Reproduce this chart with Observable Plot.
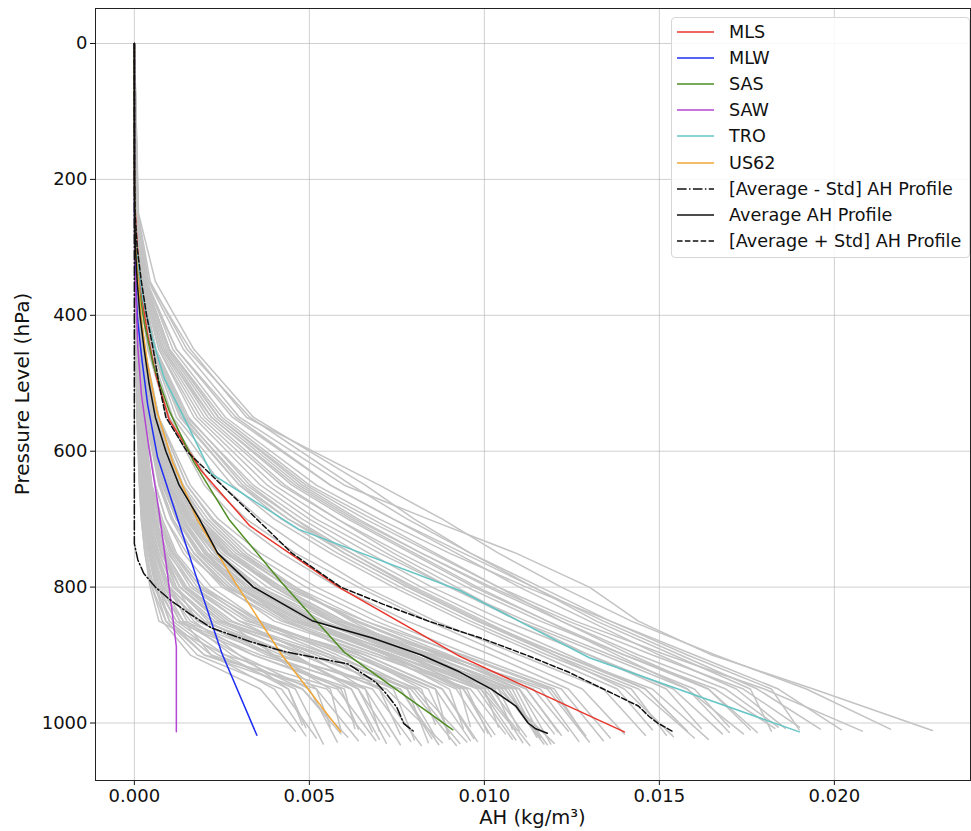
<!DOCTYPE html>
<html><head><meta charset="utf-8">
<script src="https://cdn.jsdelivr.net/npm/d3@7"></script>
<script src="https://cdn.jsdelivr.net/npm/@observablehq/plot@0.6"></script>
<style>
body{margin:0;background:#fff;font-family:"DejaVu Sans",sans-serif;}
#wrap{position:relative;width:971px;height:831px;overflow:hidden;}
#wrap > svg{position:absolute;left:0;top:0;}
.legend{position:absolute;left:671px;top:17px;width:297px;height:239px;border:1px solid #d6d6d6;border-radius:4px;background:rgba(255,255,255,0.85);font-size:17.6px;color:#111;}
.item{position:absolute;left:4px;height:22px;display:flex;align-items:center;white-space:nowrap;}
#wrap .item svg{position:static;margin-right:15px;flex:none;}
.xlabel{position:absolute;left:0;width:1065px;top:806px;text-align:center;font-size:19.5px;color:#111;}
.ylabel{position:absolute;left:22px;top:394px;transform:translate(-50%,-50%) rotate(-90deg);font-size:20px;white-space:nowrap;color:#111;}
</style></head><body><div id="wrap"></div>
<script>
// unit: values below are in g/m³, converted to kg/m³ when building rows
const G = 0.001;

const xTicks = [0, 0.005, 0.010, 0.015, 0.020];
const yTicks = [0, 200, 400, 600, 800, 1000];

const refNames  = ["MLS", "MLW", "SAS", "SAW", "TRO", "US62"];
const refColors = ["#e8352b", "#1f2ef5", "#4f8d23", "#b446d3", "#66c5c5", "#f2a734"];

// standard atmosphere profiles (pressure hPa, AH g/m³)
const mlsP = [0, 153, 179, 209, 243, 281, 324, 372, 426, 487, 554, 628, 710, 802, 902, 1013];
const mlsV = [0, 0.001, 0.0018, 0.006, 0.022, 0.064, 0.12, 0.21, 0.37, 0.61, 1.0, 1.9, 3.3, 5.9, 9.3, 14.0];
const mlwP = [0, 137.8, 161, 188.2, 219.9, 256.8, 299.2, 347.3, 401.6, 462.7, 531.3, 608.1, 693.8, 789.7, 897.3, 1018];
const mlwV = [0, 0.0048, 0.0054, 0.006, 0.0069, 0.0075, 0.016, 0.035, 0.085, 0.21, 0.38, 0.66, 1.2, 1.8, 2.5, 3.5];
const sasP = [0, 146, 170, 197.7, 230, 267.7, 310.7, 359, 413, 473, 541, 616, 700, 792.9, 896, 1010];
const sasV = [0, 0.001, 0.0018, 0.006, 0.0094, 0.015, 0.042, 0.13, 0.29, 0.54, 1.0, 1.7, 2.7, 4.2, 6.0, 9.1];
const sawP = [0, 129.1, 151, 176.6, 206.7, 241.8, 282.9, 330.8, 385.3, 446.7, 515.8, 593.2, 679.8, 777.5, 887.8, 1013];
const sawV = [0, 0.001, 0.0018, 0.0026, 0.0038, 0.0055, 0.0084, 0.011, 0.054, 0.098, 0.2, 0.41, 0.68, 0.94, 1.2, 1.2];
const troP = [0, 156, 182, 213, 247, 286, 329, 378, 432, 492, 559, 633, 715, 805, 904, 1013];
const troV = [0, 0.001, 0.0018, 0.006, 0.017, 0.05, 0.12, 0.25, 0.5, 0.85, 1.5, 2.2, 4.7, 9.3, 13.0, 19.0];
const usP  = [0, 141.7, 165.8, 194, 227, 265, 308, 356.5, 411.1, 472.2, 540.5, 616.6, 701.2, 795, 898.8, 1013];
const usV  = [0, 0.00084, 0.0018, 0.0037, 0.0082, 0.018, 0.046, 0.12, 0.21, 0.38, 0.64, 1.1, 1.8, 2.9, 4.2, 5.9];

// statistics lines
const avgP = [0, 200, 250, 300, 350, 400, 450, 500, 550, 600, 650, 700, 750, 800, 850, 875, 900, 925, 950, 975, 1000, 1008, 1015];
const avgV = [0, 0.005, 0.01, 0.03, 0.08, 0.16, 0.28, 0.42, 0.6, 0.9, 1.28, 1.86, 2.38, 3.4, 5.1, 6.8, 8.2, 9.3, 10.2, 10.9, 11.25, 11.45, 11.8];
const plusP = [0, 200, 250, 300, 350, 400, 450, 500, 550, 600, 650, 700, 750, 800, 825, 850, 875, 900, 925, 950, 975, 990, 1000, 1013];
const plusV = [0, 0.005, 0.02, 0.08, 0.2, 0.35, 0.54, 0.7, 0.9, 1.5, 2.5, 3.5, 4.5, 5.9, 7.1, 8.4, 9.9, 11.2, 12.4, 13.4, 14.4, 14.7, 14.95, 15.4];
const minusP = [0, 200, 400, 600, 700, 736, 760, 780, 800, 820, 840, 860, 880, 895, 913, 940, 957, 977, 1001, 1013];
const minusV = [0, 0, 0, 0, 0, 0, 0.1, 0.27, 0.6, 1.05, 1.6, 2.2, 3.3, 4.3, 6.1, 6.9, 7.2, 7.5, 7.7, 8.0];

// individual profiles (gray): values at grayLevels, then [surface pressure, surface value]
const grayLevels = [0, 250, 350, 450, 550, 650, 700, 750, 800, 850, 900, 950];
const grayProfiles = [
  [0,0.005,0.02,0.05,0.10,0.20,0.30,0.40,0.60,0.90,1.8,4.2],
  [0,0.005,0.02,0.06,0.12,0.25,0.35,0.50,0.80,1.3,3.0,5.0],
  [0,0.01,0.03,0.08,0.15,0.30,0.45,0.70,1.1,2.2,4.5,6.4],
  [0,0.01,0.03,0.06,0.12,0.22,0.30,0.45,0.70,1.0,2.0,5.5],
  [0,0.01,0.04,0.10,0.20,0.40,0.60,0.90,1.5,2.8,5.2,7.4],
  [0,0.005,0.02,0.05,0.10,0.18,0.25,0.35,0.50,0.80,1.6,3.6],
  [0,0.01,0.04,0.10,0.25,0.50,0.80,1.2,2.0,3.5,5.8,7.8],
  [0,0.01,0.03,0.08,0.18,0.35,0.50,0.80,1.2,1.8,3.8,6.6],
  [0,0.01,0.02,0.05,0.10,0.15,0.20,0.30,0.45,0.70,2.6,5.8],
  [0,0.01,0.03,0.07,0.14,0.28,0.40,0.60,0.90,1.6,3.4,6.0],
  [0,0.01,0.04,0.10,0.20,0.45,0.70,1.0,1.6,3.0,6.2,8.4],
  [0,0.01,0.03,0.08,0.16,0.32,0.50,0.75,1.3,2.5,4.8,7.0],
  [0,0.01,0.03,0.09,0.20,0.40,0.55,0.85,1.4,2.6,4.0,5.2],
  [0,0.01,0.02,0.06,0.12,0.25,0.40,0.60,1.0,2.0,4.2,7.2],
  [0,0.005,0.02,0.04,0.08,0.15,0.22,0.35,0.55,1.1,2.4,4.6],
  [0,0.01,0.03,0.07,0.15,0.30,0.45,0.65,1.0,1.5,2.8,4.8],
  [0,0.01,0.04,0.11,0.22,0.42,0.62,0.95,1.7,3.2,6.6,8.8],
  [0,0.005,0.015,0.04,0.09,0.18,0.28,0.42,0.65,1.2,3.4,6.2],
  [0,0.01,0.03,0.07,0.13,0.26,0.38,0.55,0.85,1.4,2.2,4.0],
  [0,0.01,0.035,0.09,0.18,0.36,0.55,0.85,1.3,2.4,5.4,7.9],
  [0,0.005,0.02,0.05,0.11,0.22,0.32,0.48,0.75,1.3,3.6,6.8],
  [0,0.01,0.025,0.06,0.12,0.24,0.36,0.52,0.8,1.9,4.6,6.2],
  [0,0.01,0.04,0.1,0.21,0.42,0.65,1.1,1.9,3.6,6.0,8.0],
  [0,0.005,0.015,0.035,0.07,0.14,0.2,0.3,0.5,0.9,2.0,4.8],
  [0,0.01,0.03,0.08,0.17,0.34,0.5,0.78,1.2,2.1,3.9,5.9],
  [0,0.01,0.03,0.07,0.15,0.3,0.46,0.7,1.15,2.3,5.0,7.6],
  [0,0.01,0.04,0.12,0.26,0.5,0.75,1.15,1.9,3.3,5.6,7.0],
  [0,0.005,0.02,0.05,0.1,0.2,0.3,0.45,0.7,1.4,4.0,7.6],
  [0,0.01,0.03,0.08,0.16,0.3,0.44,0.66,1.0,1.7,3.0,4.4],
  [0,0.01,0.035,0.09,0.19,0.38,0.58,0.9,1.45,2.7,5.6,8.1],
  [0,0.01,0.03,0.07,0.14,0.27,0.38,0.58,0.95,1.8,4.0,5.6],
  [0,0.005,0.02,0.045,0.09,0.17,0.26,0.4,0.62,1.0,2.2,5.2],
  [0,0.01,0.04,0.1,0.22,0.46,0.7,1.05,1.7,3.0,5.0,6.6],
  [0,0.01,0.03,0.08,0.18,0.36,0.52,0.8,1.3,2.5,5.4,7.8],
  [0,0.01,0.025,0.06,0.13,0.26,0.4,0.62,1.0,2.0,4.4,6.4],
  [0,0.01,0.04,0.11,0.24,0.48,0.72,1.1,1.8,3.4,6.4,8.6],
  [0,0.005,0.02,0.05,0.1,0.19,0.28,0.44,0.7,1.2,2.6,4.4],
  [0,0.02,0.06,0.15,0.35,0.80,1.2,1.8,2.8,4.4,7.0,9.2],
  [0,0.02,0.07,0.20,0.50,1.1,1.6,2.4,3.6,5.4,8.0,10.2],
  [0,0.02,0.05,0.12,0.30,0.60,0.90,1.4,2.2,3.6,6.2,8.6],
  [0,0.03,0.08,0.22,0.55,1.2,1.8,2.8,4.2,6.0,8.4,10.8],
  [0,0.02,0.06,0.18,0.45,1.0,1.5,2.2,3.2,5.0,7.6,10.4],
  [0,0.03,0.10,0.25,0.60,1.3,2.0,3.0,4.6,6.6,9.0,11.2],
  [0,0.02,0.05,0.14,0.35,0.75,1.1,1.7,2.6,4.0,6.8,9.6],
  [0,0.03,0.09,0.22,0.50,1.0,1.4,2.0,3.0,4.8,7.4,9.8],
  [0,0.02,0.06,0.16,0.40,0.90,1.3,2.0,3.2,5.2,8.6,11.4],
  [0,0.03,0.10,0.28,0.70,1.5,2.2,3.2,4.6,6.2,8.2,10.0],
  [0,0.02,0.07,0.20,0.50,1.1,1.7,2.6,4.0,5.8,8.8,11.8],
  [0,0.02,0.05,0.12,0.28,0.60,0.90,1.5,2.6,4.6,7.8,10.6],
  [0,0.03,0.08,0.20,0.50,1.0,1.6,2.6,4.2,6.6,9.4,12.0],
  [0,0.02,0.06,0.15,0.40,0.85,1.3,2.0,3.0,4.4,6.4,8.2],
  [0,0.03,0.09,0.25,0.60,1.3,1.9,2.8,4.0,5.6,7.8,9.4],
  [0,0.02,0.07,0.18,0.45,1.0,1.5,2.3,3.6,5.6,8.2,10.6],
  [0,0.03,0.10,0.30,0.70,1.6,2.4,3.6,5.2,7.2,9.6,12.2],
  [0,0.02,0.05,0.14,0.36,0.80,1.2,1.9,3.0,4.8,7.2,9.0],
  [0,0.02,0.06,0.17,0.42,0.95,1.4,2.1,3.3,5.3,7.9,10.9],
  [0,0.03,0.08,0.24,0.58,1.25,1.9,2.9,4.4,6.4,8.8,11.0],
  [0,0.02,0.05,0.13,0.32,0.70,1.05,1.6,2.5,4.2,7.0,9.9],
  [0,0.02,0.06,0.16,0.38,0.85,1.25,1.9,2.9,4.6,7.2,9.4],
  [0,0.02,0.07,0.19,0.46,1.0,1.55,2.35,3.5,5.3,7.7,9.9],
  [0,0.03,0.09,0.24,0.56,1.2,1.8,2.7,4.1,6.0,8.5,10.7],
  [0,0.02,0.05,0.13,0.33,0.72,1.1,1.7,2.7,4.5,7.4,10.1],
  [0,0.03,0.1,0.27,0.64,1.4,2.1,3.1,4.5,6.3,8.7,11.2],
  [0,0.02,0.06,0.17,0.4,0.9,1.35,2.05,3.1,4.9,7.6,10.3],
  [0,0.03,0.08,0.22,0.52,1.15,1.75,2.65,4.0,5.9,8.3,10.5],
  [0,0.02,0.06,0.15,0.37,0.82,1.2,1.85,2.95,4.7,7.3,9.5],
  [0,0.03,0.09,0.26,0.62,1.35,2.0,3.0,4.4,6.3,8.9,11.6],
  [0,0.02,0.07,0.19,0.47,1.05,1.55,2.3,3.4,5.0,7.3,9.3],
  [0,0.03,0.1,0.29,0.68,1.5,2.25,3.35,4.9,6.9,9.3,11.9],
  [0,0.02,0.05,0.14,0.34,0.74,1.1,1.7,2.7,4.3,6.6,8.8],
  [0,0.02,0.06,0.17,0.43,0.95,1.45,2.2,3.4,5.2,7.8,10.0],
  [0,0.03,0.08,0.23,0.55,1.2,1.8,2.7,4.0,5.7,8.0,10.4],
  [0,0.02,0.07,0.21,0.5,1.1,1.65,2.5,3.8,5.7,8.4,11.0],
  [0,0.05,0.15,0.40,1.0,2.2,3.2,4.6,6.4,8.4,10.6,12.8],
  [0,0.05,0.18,0.50,1.2,2.8,4.0,5.6,7.4,9.4,11.6,13.8],
  [0,0.06,0.20,0.60,1.5,3.4,4.8,6.4,8.2,10.2,12.4,14.6],
  [0,0.08,0.25,0.80,2.0,4.2,5.8,7.4,9.2,11.0,13.0,15.2],
  [0,0.10,0.30,1.0,2.5,5.0,6.8,8.6,10.4,12.2,14.2,16.4],
  [0,0.08,0.30,1.2,2.8,5.6,7.4,9.2,11.0,13.0,15.0,17.2],
  [0,0.10,0.40,1.4,3.0,6.0,8.4,10.9,13.0,14.4,16.5,19.4],
  [0,0.06,0.20,0.70,1.8,3.8,5.2,7.0,9.0,11.2,13.6,16.0],
  [0,0.05,0.16,0.50,1.3,3.0,4.4,6.2,8.0,10.0,12.0,14.0],
  [0,0.10,0.35,1.1,2.6,5.2,7.0,9.0,11.2,13.6,16.0,18.4],
  [0,0.10,0.40,1.6,3.2,7.0,8.8,10.4,12.2,14.2,16.6,19.2],
  [0,0.06,0.22,0.80,2.2,4.6,6.2,8.0,9.8,11.8,13.8,15.8],
  [0,0.04,0.14,0.45,1.1,2.5,3.6,5.0,6.6,8.6,11.0,13.4],
  [0,0.12,0.60,1.7,3.4,6.6,8.0,9.6,11.4,13.2,15.4,17.6],
  [0,0.05,0.16,0.55,1.4,3.2,4.6,6.0,7.8,9.8,12.2,14.8],
  [0,0.04,0.12,0.38,0.95,2.0,2.9,4.2,5.8,7.8,10.2,12.4],
  [0,0.07,0.24,0.75,1.9,4.0,5.5,7.2,9.0,11.0,13.4,15.8],
  [0,0.09,0.32,1.0,2.4,4.8,6.4,8.2,10.2,12.4,14.8,17.4],
  [0,0.06,0.2,0.62,1.55,3.3,4.6,6.2,7.9,9.9,12.2,14.6],
  [0,0.08,0.28,0.9,2.2,4.5,6.1,7.9,9.7,11.8,14.0,16.4],
  [0,0.1,0.35,1.2,2.9,5.6,7.4,9.4,11.4,13.4,15.6,17.8],
  [0,0.07,0.26,0.85,2.1,4.3,5.8,7.6,9.5,11.6,14.0,16.6],
  [0,0.05,0.17,0.52,1.35,3.0,4.2,5.8,7.6,9.6,11.8,14.2],
  [0,0.09,0.3,1.0,2.4,4.9,6.6,8.5,10.4,12.6,15.2,18.0],
  [0,0.06,0.22,0.7,1.7,3.6,5.0,6.7,8.5,10.6,13.0,15.4],
  [0,0.11,0.45,1.5,3.3,6.2,7.8,9.6,11.6,13.6,15.8,18.2],
  [0,0.05,0.18,0.58,1.45,3.1,4.4,6.0,7.8,9.8,12.0,14.4],
  [0,0.08,0.28,0.95,2.3,4.7,6.3,8.2,10.1,12.2,14.4,16.9]
];
const graySurface = [
  [1022,5.2],[1028,5.8],[1030,7.2],[1018,6.6],[1025,8.0],[1012,4.6],[1020,8.6],[1032,7.6],[1026,6.9],[1008,6.3],
  [1015,9.0],[1033,8.2],[1005,5.6],[1029,8.8],[1031,5.4],[1016,5.9],[1027,9.8],
  [1024,7.0],[1019,4.9],[1033,9.2],[1027,7.9],[1013,6.8],[1030,9.3],[1021,6.1],[1009,6.4],[1023,8.5],[1017,7.6],
  [1032,8.7],[1003,4.8],[1028,9.5],[1010,5.9],[1026,6.4],[1012,7.0],[1029,8.4],[1020,7.3],[1024,9.0],[1007,4.9],
  [1014,10.0],[1020,11.2],[1026,9.6],[1010,11.4],[1030,12.0],[1018,12.2],[1016,10.6],[1024,10.8],[1012,12.4],[1006,10.4],
  [1028,13.0],[1022,11.6],[1014,12.8],[1002,8.6],[1020,10.2],[1032,11.8],[1026,13.4],[1008,9.4],[1019,11.6],[1031,11.9],[1011,10.9],
  [1017,10.3],[1025,10.9],[1021,11.5],[1029,11.1],[1013,12.1],[1009,10.8],[1031,11.7],[1015,10.1],[1027,12.7],[1005,9.6],
  [1019,12.9],[1023,9.7],[1033,11.3],[1011,11.0],[1016,12.0],
  [1016,14.0],[1010,14.8],[1012,15.8],[1008,16.2],[1010,17.6],[1008,18.6],[1011,22.8],[1006,17.0],[1020,15.4],[1010,20.2],
  [1009,21.6],[1014,17.0],[1018,14.6],[1012,18.2],[1024,16.4],[1022,13.6],[1016,17.4],[1006,19.0],
  [1012,15.8],[1014,17.8],[1009,19.6],[1008,18.3],[1018,15.2],[1012,20.8],[1016,16.8],[1010,19.0],[1022,16.0],[1006,18.4]
];

const legendLabels = ["[Average - Std] AH Profile", "Average AH Profile", "[Average + Std] AH Profile"];

// ---- build rows ----
const rowsOf = (name, P, V) => P.map((p, i) => ({name, p, v: V[i] * G}));
const refRows = [
  ...rowsOf("MLS", mlsP, mlsV), ...rowsOf("MLW", mlwP, mlwV), ...rowsOf("SAS", sasP, sasV),
  ...rowsOf("SAW", sawP, sawV), ...rowsOf("TRO", troP, troV), ...rowsOf("US62", usP, usV)
];
const grayRows = grayProfiles.flatMap((vals, k) => [
  ...grayLevels.map((p, i) => ({id: k, p, v: vals[i] * G})),
  {id: k, p: graySurface[k][0], v: graySurface[k][1] * G}
]);
const avgRows = rowsOf("avg", avgP, avgV);
const plusRows = rowsOf("plus", plusP, plusV);
const minusRows = rowsOf("minus", minusP, minusV);

const chart = Plot.plot({
  width: 971, height: 831,
  marginLeft: 95, marginRight: 1, marginTop: 8, marginBottom: 51,
  style: {fontFamily: "DejaVu Sans, sans-serif", fontSize: "18px", background: "white", color: "#111"},
  x: {domain: [-0.00111, 0.02389], ticks: xTicks, tickFormat: d3.format(".3f"), label: null},
  y: {domain: [1084.6, -51.5], ticks: yTicks, tickFormat: d3.format("d"), label: null},
  color: {domain: refNames, range: refColors},
  marks: [
    Plot.gridX(xTicks, {stroke: "#b0b0b0", strokeOpacity: 0.6, strokeWidth: 1}),
    Plot.gridY(yTicks, {stroke: "#b0b0b0", strokeOpacity: 0.6, strokeWidth: 1}),
    Plot.line(grayRows, {x: "v", y: "p", z: "id", stroke: "#c3c3c3", strokeWidth: 1.5}),
    Plot.line(refRows, {x: "v", y: "p", z: "name", stroke: "name", strokeWidth: 1.5}),
    Plot.line(minusRows, {x: "v", y: "p", stroke: "#111", strokeWidth: 1.5, strokeDasharray: "9.6,2.4,1.5,2.4"}),
    Plot.line(avgRows, {x: "v", y: "p", stroke: "#111", strokeWidth: 1.5}),
    Plot.line(plusRows, {x: "v", y: "p", stroke: "#111", strokeWidth: 1.5, strokeDasharray: "5.5,2.4"}),
    Plot.axisX({ticks: xTicks, tickFormat: d3.format(".3f"), tickSize: 5, tickPadding: 4, fontSize: 18, label: null}),
    Plot.axisY({ticks: yTicks, tickFormat: d3.format("d"), tickSize: 5, tickPadding: 3, fontSize: 18, label: null}),
    Plot.frame({stroke: "#222", strokeWidth: 1})
  ]
});

const wrap = document.getElementById("wrap");
wrap.appendChild(chart);

const xl = document.createElement("div"); xl.className = "xlabel"; xl.textContent = "AH (kg/m³)"; wrap.appendChild(xl);
const yl = document.createElement("div"); yl.className = "ylabel"; yl.textContent = "Pressure Level (hPa)"; wrap.appendChild(yl);

// legend
const leg = document.createElement("div"); leg.className = "legend"; wrap.appendChild(leg);
const entries = [
  ...refNames.map((n, i) => ({label: n, color: refColors[i], dash: null})),
  {label: legendLabels[0], color: "#111", dash: "9.6,2.4,1.5,2.4"},
  {label: legendLabels[1], color: "#111", dash: null},
  {label: legendLabels[2], color: "#111", dash: "5.5,2.4"}
];
entries.forEach((e, i) => {
  const it = document.createElement("div"); it.className = "item";
  it.style.top = (3 + i * 26.1) + "px";
  const s = d3.create("svg").attr("width", 38).attr("height", 10);
  s.append("line").attr("x1", 1).attr("x2", 38).attr("y1", 5).attr("y2", 5)
    .attr("stroke", e.color).attr("stroke-width", 1.5).attr("stroke-dasharray", e.dash);
  it.appendChild(s.node());
  const t = document.createElement("span"); t.textContent = e.label; it.appendChild(t);
  leg.appendChild(it);
});
</script>
</body></html>
